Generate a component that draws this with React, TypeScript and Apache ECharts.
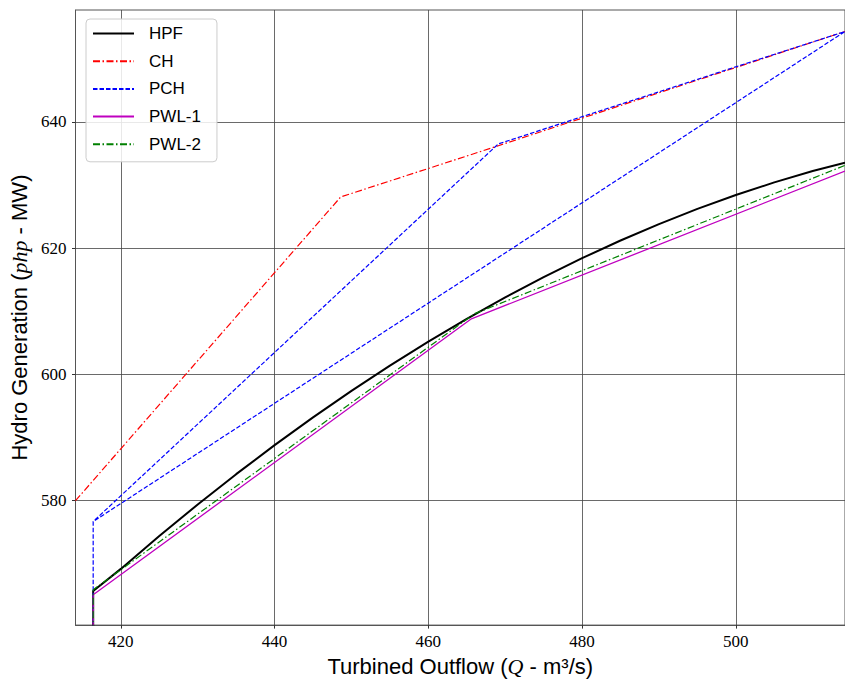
import React, { useEffect, useRef } from "react";
import * as echarts from "echarts";

// ---- data ----
const seriesNames = ["HPF", "CH", "PCH", "PWL-1", "PWL-2"];

const hpfQ = [416.4, 416.4, 420, 425, 430, 435, 440, 445, 450, 455, 460, 465, 470, 475, 480, 485, 490, 495, 500, 505, 510, 514.2];
const hpfP = [540, 565.7, 569.2, 574.4, 579.4, 584.2, 588.8, 593.2, 597.4, 601.4, 605.2, 608.8, 612.2, 615.4, 618.4, 621.2, 623.8, 626.2, 628.4, 630.4, 632.2, 633.5];

const chQ = [414.1, 448.6, 469.1, 514.2];
const chP = [580.0, 628.1, 636.2, 654.3];

const pchQ = [416.4, 416.4, 469.1, 514.2, 416.4];
const pchP = [540, 576.7, 636.5, 654.3, 576.7];

const pwl1Q = [416.4, 416.4, 465.6, 514.2];
const pwl1P = [540, 565.1, 608.8, 632.2];

const pwl2Q = [416.4, 416.4, 466.0, 514.2];
const pwl2P = [540, 565.9, 609.6, 633.1];

const xTicks = [420, 440, 460, 480, 500];
const yTicks = [580, 600, 620, 640];
const xRange = [414.1, 514.2];
const yRange = [560.3, 657.7];

const zip = (q: number[], p: number[]) => q.map((v, i) => [v, p[i]]);

export default function App() {
  const ref = useRef<HTMLDivElement>(null);
  useEffect(() => {
    if (!ref.current) return;
    const chart = echarts.init(ref.current, undefined, { renderer: "svg" });
    const sans = "Liberation Sans, Arial, sans-serif";
    const serif = "Liberation Serif, Times New Roman, serif";
    const mk = (name: string, data: number[][], color: string, width: number, type: any) => ({
      name,
      type: "line",
      data,
      symbol: "none",
      clip: true,
      lineStyle: { color, width, type },
      itemStyle: { color },
      emphasis: { disabled: true },
    });
    chart.setOption({
      animation: false,
      backgroundColor: "#ffffff",
      grid: {
        left: 75.5,
        right: 0,
        top: 10,
        bottom: 56,
        show: true,
        borderColor: "#555",
        borderWidth: 1,
      },
      legend: {
        orient: "vertical",
        left: 86,
        top: 19,
        itemWidth: 41,
        itemHeight: 12,
        itemGap: 10.7,
        padding: [6, 16, 9, 6],
        backgroundColor: "rgba(255,255,255,0.85)",
        borderColor: "#cccccc",
        borderWidth: 1,
        borderRadius: 4,
        itemStyle: { opacity: 0, borderWidth: 0 },
        textStyle: { fontFamily: sans, fontSize: 17, color: "#000", padding: [0, 0, 0, 10] },
        data: seriesNames,
      },
      xAxis: {
        type: "value",
        min: xRange[0],
        max: xRange[1],
        name: "Turbined Outflow ({i|Q} - m³/s)",
        nameLocation: "middle",
        nameGap: 26,
        nameTextStyle: {
          fontFamily: sans,
          fontSize: 22,
          color: "#000",
          rich: { i: { fontFamily: serif, fontStyle: "italic", fontSize: 22, color: "#000" } },
        },
        axisLine: { show: true, lineStyle: { color: "#555", width: 1 } },
        axisTick: { show: true, inside: false, length: 3.5, customValues: xTicks, lineStyle: { color: "#333" } },
        axisLabel: {
          customValues: xTicks,
          fontFamily: serif,
          fontSize: 17,
          color: "#000",
          margin: 8,
        },
        splitLine: { show: true, lineStyle: { color: "#444", width: 0.8 } },
      },
      yAxis: {
        type: "value",
        min: yRange[0],
        max: yRange[1],
        name: "Hydro Generation ({i|php} - MW)",
        nameLocation: "middle",
        nameGap: 42,
        nameRotate: 90,
        nameTextStyle: {
          fontFamily: sans,
          fontSize: 22,
          color: "#000",
          rich: { i: { fontFamily: serif, fontStyle: "italic", fontSize: 22, color: "#000" } },
        },
        axisLine: { show: true, lineStyle: { color: "#555", width: 1 } },
        axisTick: { show: true, inside: false, length: 3.5, customValues: yTicks, lineStyle: { color: "#333" } },
        axisLabel: {
          customValues: yTicks,
          fontFamily: serif,
          fontSize: 17,
          color: "#000",
          margin: 9,
        },
        splitLine: { show: true, lineStyle: { color: "#444", width: 0.8 } },
      },
      series: [
        mk("HPF", zip(hpfQ, hpfP), "#000000", 2, "solid"),
        mk("CH", zip(chQ, chP), "#ff0000", 1.2, [7, 2.5, 1.5, 2.5]),
        mk("PCH", zip(pchQ, pchP), "#0000ff", 1.2, [4.5, 2]),
        mk("PWL-1", zip(pwl1Q, pwl1P), "#bf00bf", 1.3, "solid"),
        mk("PWL-2", zip(pwl2Q, pwl2P), "#008000", 1.2, [7, 2.5, 1.5, 2.5]),
      ],
    });
    return () => chart.dispose();
  }, []);
  return (
    <div
      ref={ref}
      style={{ position: "fixed", left: 0, top: 0, width: 845, height: 682, background: "#fff" }}
    />
  );
}
